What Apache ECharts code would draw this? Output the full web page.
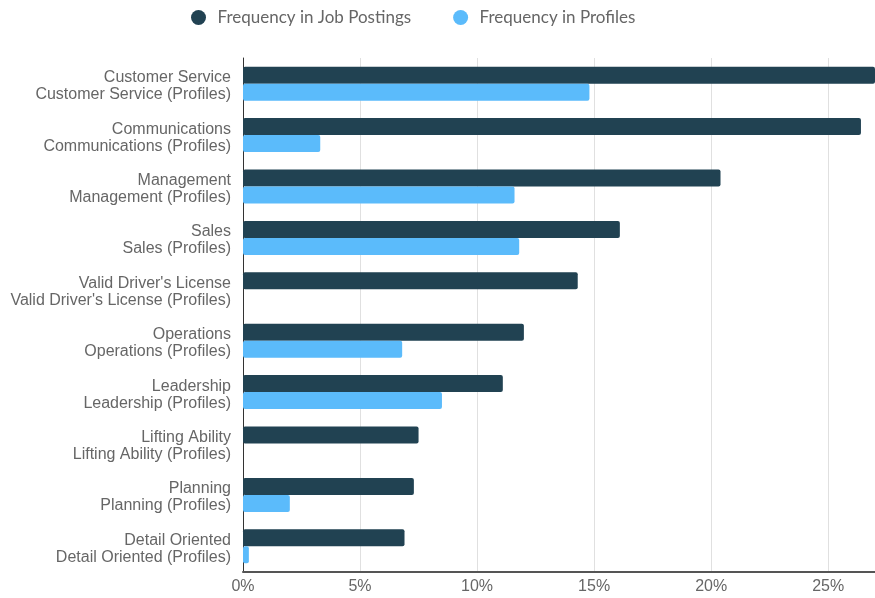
<!DOCTYPE html>
<html>
<head>
<meta charset="utf-8">
<script src="https://cdn.jsdelivr.net/npm/echarts@6/dist/echarts.min.js"></script>
<style>
    html, body { margin: 0; padding: 0; background: #fff; }
    #chart { width: 875px; height: 598px; }
</style>
</head>
<body>
<div id="chart"></div>
<script>
// skills, top to bottom
const skills = ['Customer Service', 'Communications', 'Management', 'Sales', "Valid Driver's License",
    'Operations', 'Leadership', 'Lifting Ability', 'Planning', 'Detail Oriented']
const jobPostings = [27.5, 26.4, 20.4, 16.1, 14.3, 12.0, 11.1, 7.5, 7.3, 6.9]
const profiles = [14.8, 3.3, 11.6, 11.8, 0, 6.8, 8.5, 0, 2.0, 0.25]
const xTicks = [0, 5, 10, 15, 20, 25]

const chart = echarts.init(document.getElementById('chart'))
chart.setOption({
    animation: false,
    legend: {
        top: 4,
        left: 186,
        icon: 'circle',
        itemWidth: 28,
        itemHeight: 15,
        itemGap: 42,
        textStyle: {
            color: '#666',
            fontSize: 17,
            fontFamily: 'Lato'
        },
        data: ['Frequency in Job Postings', 'Frequency in Profiles']
    },
    grid: {
        left: 243,
        right: 0,
        top: 58,
        bottom: 26
    },
    xAxis: {
        type: 'value',
        min: 0,
        max: 27,
        interval: 5,
        axisLine: {
            show: true,
            lineStyle: { color: '#555', width: 2 }
        },
        axisTick: { show: false },
        axisLabel: {
            color: '#666',
            fontSize: 16,
            fontFamily: 'Liberation Sans',
            margin: 7,
            showMaxLabel: false,
            formatter: v => xTicks.indexOf(v) >= 0 ? v + '%' : ''
        },
        splitLine: {
            lineStyle: { color: '#e0e0e0' }
        }
    },
    yAxis: {
        type: 'category',
        inverse: true,
        data: skills,
        axisLine: {
            show: true,
            lineStyle: { color: '#333' }
        },
        axisTick: { show: false },
        axisLabel: {
            color: '#666',
            fontSize: 16,
            fontFamily: 'Liberation Sans',
            margin: 12,
            formatter: v => '{a|' + v + '}\n{b|' + v + ' (Profiles)}',
            rich: {
                a: { fontSize: 16, lineHeight: 22, verticalAlign: 'bottom' },
                b: { fontSize: 16, lineHeight: 18 }
            }
        }
    },
    series: [
        {
            name: 'Frequency in Job Postings',
            type: 'bar',
            barWidth: 17,
            barGap: '0%',
            itemStyle: {
                color: '#214252',
                borderRadius: 2
            },
            data: jobPostings
        },
        {
            name: 'Frequency in Profiles',
            type: 'bar',
            barWidth: 17,
            itemStyle: {
                color: '#5bbbfb',
                borderRadius: 2
            },
            data: profiles
        }
    ]
})
</script>
</body>
</html>
